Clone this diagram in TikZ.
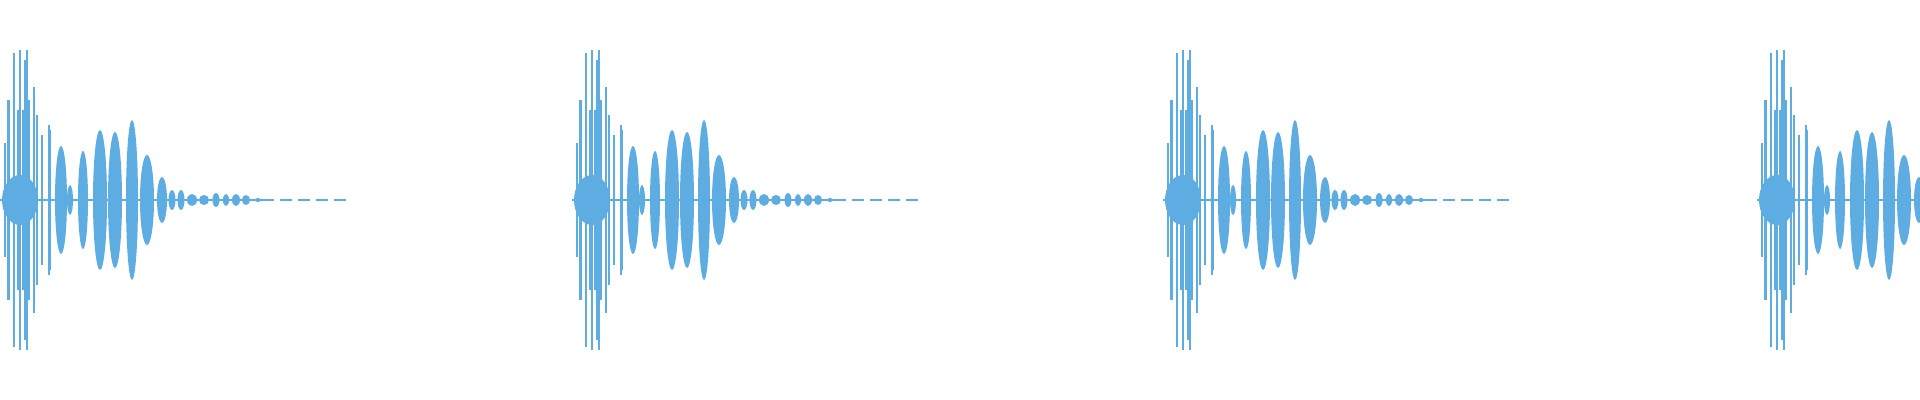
\documentclass[tikz,border=0pt]{standalone}
\definecolor{wave}{HTML}{5DADE2}
\begin{document}
\begin{tikzpicture}[x=0.5pt,y=-0.5pt,
  spike/.style={draw=wave,line width=0.9pt},
  lobe/.style={fill=wave},
  burst/.pic={
    \fill[wave] (20,200) ellipse [x radius=18,y radius=25];
    \draw[wave,line width=1pt] (0,200) -- (262,200);
    \foreach \x/\a in {5/57,8/100,9/100,14/147,18/90,20/150,23/90,25/140,27/150,29/100,34/113,37/85,42/65,49/75,50/70}
      \draw[spike] (\x,200-\a) -- (\x,200+\a);
    \foreach \x/\w/\a in {61/6/54,70/3/15,83/5/49,100/7/70,115/7/68,132/6/80,147/7/45,162/5/23,172/3.5/10,181/3.5/10,192/5/6,204/5/5,216/3.5/7,226/3/6,236/4/6,246/4/5,258/3/2}
      \fill[lobe] (\x,200) ellipse [x radius=\w,y radius=\a];
    \draw[wave,line width=1pt,dash pattern=on 6pt off 3pt] (262,200) -- (350,200);
  }]
\useasboundingbox (0,0) rectangle (1920,400);
\clip (0,0) rectangle (1920,400);
\foreach \s in {0,572,1163,1757} \pic at (\s,0) {burst};
\end{tikzpicture}
\end{document}
